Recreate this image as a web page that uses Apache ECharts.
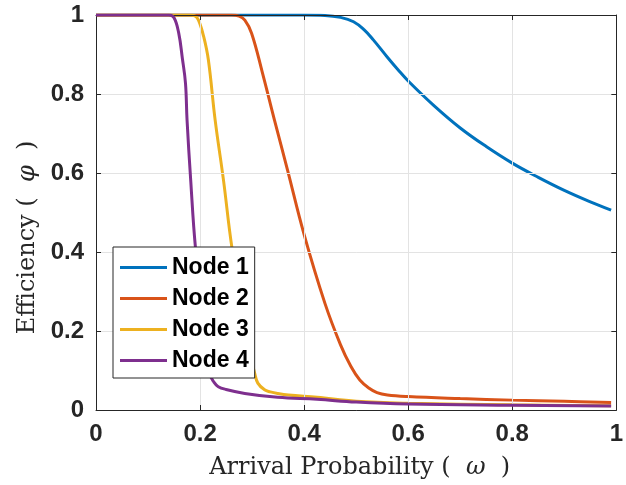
<!DOCTYPE html>
<html>
<head>
<meta charset="utf-8">
<script src="https://cdn.jsdelivr.net/npm/echarts@6/dist/echarts.min.js"></script>
<style>
  html, body { margin: 0; padding: 0; background: #ffffff; }
  #chart { width: 626px; height: 485px; }
</style>
</head>
<body>
<div id="chart"></div>
<script>
// Efficiency vs. arrival probability for four nodes
const seriesNames = ['Node 1', 'Node 2', 'Node 3', 'Node 4'];
const seriesColors = ['#0072BD', '#D95319', '#EDB120', '#7E2F8E'];

const omega1 = [0, 0.40, 0.44, 0.47, 0.495, 0.515, 0.533, 0.56, 0.58, 0.60, 0.65, 0.70, 0.75, 0.80, 0.85, 0.90, 0.95, 0.99];
const eff1   = [1, 1, 0.999, 0.994, 0.983, 0.963, 0.937, 0.893, 0.862, 0.833, 0.770, 0.714, 0.667, 0.625, 0.589, 0.556, 0.527, 0.506];

const omega2 = [0, 0.26, 0.275, 0.286, 0.299, 0.32, 0.343, 0.368, 0.40, 0.44, 0.47, 0.49, 0.507, 0.525, 0.54, 0.56, 0.60, 0.70, 0.80, 0.90, 0.99];
const eff2   = [1, 1, 0.997, 0.987, 0.954, 0.853, 0.734, 0.608, 0.444, 0.27, 0.165, 0.11, 0.076, 0.055, 0.044, 0.038, 0.034, 0.029, 0.025, 0.022, 0.019];

const omega3 = [0, 0.18, 0.19, 0.197, 0.207, 0.216, 0.229, 0.245, 0.261, 0.282, 0.295, 0.305, 0.311, 0.324, 0.335, 0.349, 0.37, 0.425, 0.50, 0.60, 0.80, 0.99];
const eff3   = [1, 1, 0.998, 0.987, 0.945, 0.886, 0.734, 0.582, 0.413, 0.25, 0.15, 0.093, 0.068, 0.051, 0.046, 0.042, 0.038, 0.032, 0.022, 0.017, 0.013, 0.011];

const omega4 = [0, 0.14, 0.15, 0.159, 0.166, 0.172, 0.175, 0.182, 0.191, 0.205, 0.2195, 0.227, 0.235, 0.25, 0.286, 0.349, 0.425, 0.50, 0.60, 0.80, 0.99];
const eff4   = [1, 1, 0.993, 0.954, 0.89, 0.827, 0.734, 0.582, 0.413, 0.253, 0.089, 0.07, 0.059, 0.052, 0.042, 0.032, 0.027, 0.020, 0.015, 0.012, 0.010];

const xTicks = [0, 0.2, 0.4, 0.6, 0.8, 1];
const yTicks = [0, 0.2, 0.4, 0.6, 0.8, 1];
const xTitle = 'Arrival Probability';
const yTitle = 'Efficiency';

const omegas = [omega1, omega2, omega3, omega4];
const effs = [eff1, eff2, eff3, eff4];

const axisColor = '#262626';
const gridColor = '#e3e3e3';
const tickFont = { fontFamily: 'Liberation Sans, Arial, sans-serif', fontWeight: 'bold', fontSize: 24, color: axisColor };
const titleFont = 'DejaVu Serif, serif';
const titleSize = 24;

function pairs(xs, ys) {
  return xs.map((x, i) => [x, ys[i]]);
}

function tickFormatter(v) {
  const hit = xTicks.find(t => Math.abs(t - v) < 1e-9);
  return hit === undefined ? '' : String(hit);
}

function makeAxis(dim, position, primary) {
  const ticks = dim === 'x' ? xTicks : yTicks;
  return {
    type: 'value',
    position: position,
    min: ticks[0],
    max: ticks[ticks.length - 1],
    interval: ticks[1] - ticks[0],
    axisLine: { show: true, onZero: false, lineStyle: { color: axisColor, width: 1 } },
    axisTick: { show: true, inside: true, length: 5, lineStyle: { color: axisColor, width: 1 } },
    axisLabel: primary ? Object.assign({ show: true, margin: 12, formatter: tickFormatter }, tickFont) : { show: false },
    splitLine: { show: primary, lineStyle: { color: gridColor, width: 1 } },
    z: 5
  };
}

function titleStyle(pad) {
  return {
    fontFamily: titleFont, fontSize: titleSize, fontWeight: 'normal', color: axisColor, padding: pad,
    rich: { i: { fontFamily: titleFont, fontStyle: 'italic', fontSize: titleSize, color: axisColor } }
  };
}

const xMain = makeAxis('x', 'bottom', true);
xMain.name = xTitle + ' (  {i|ω}  )';
xMain.nameLocation = 'middle';
xMain.nameGap = 46;
xMain.nameTextStyle = titleStyle([0, 0, 0, 7]);

const yMain = makeAxis('y', 'left', true);
yMain.name = yTitle + ' (  {i|φ}  )';
yMain.nameLocation = 'middle';
yMain.nameGap = 56;
yMain.nameTextStyle = titleStyle([0, 50, 0, 0]);

const chart = echarts.init(document.getElementById('chart'), null, { renderer: 'canvas' });

chart.setOption({
  animation: false,
  backgroundColor: '#ffffff',
  grid: { left: 96, top: 15, width: 527, height: 395, containLabel: false },
  xAxis: [xMain, makeAxis('x', 'top', false)],
  yAxis: [yMain, makeAxis('y', 'right', false)],
  legend: {
    orient: 'vertical',
    left: 113,
    top: 247,
    data: seriesNames,
    icon: 'rect',
    itemWidth: 47,
    itemHeight: 3,
    itemGap: 8,
    padding: [9, 6, 6, 7],
    backgroundColor: '#ffffff',
    borderColor: axisColor,
    borderWidth: 1,
    borderRadius: 0,
    textStyle: { fontFamily: 'Liberation Sans, Arial, sans-serif', fontWeight: 'bold', fontSize: 23, color: '#000000', lineHeight: 23 },
    z: 10
  },
  series: seriesNames.map((name, k) => ({
    name: name,
    type: 'line',
    xAxisIndex: 0,
    yAxisIndex: 0,
    data: pairs(omegas[k], effs[k]),
    showSymbol: false,
    symbol: 'none',
    smooth: 0.4,
    color: seriesColors[k],
    lineStyle: { color: seriesColors[k], width: 3 },
    z: 2 + k
  }))
});
</script>
</body>
</html>
